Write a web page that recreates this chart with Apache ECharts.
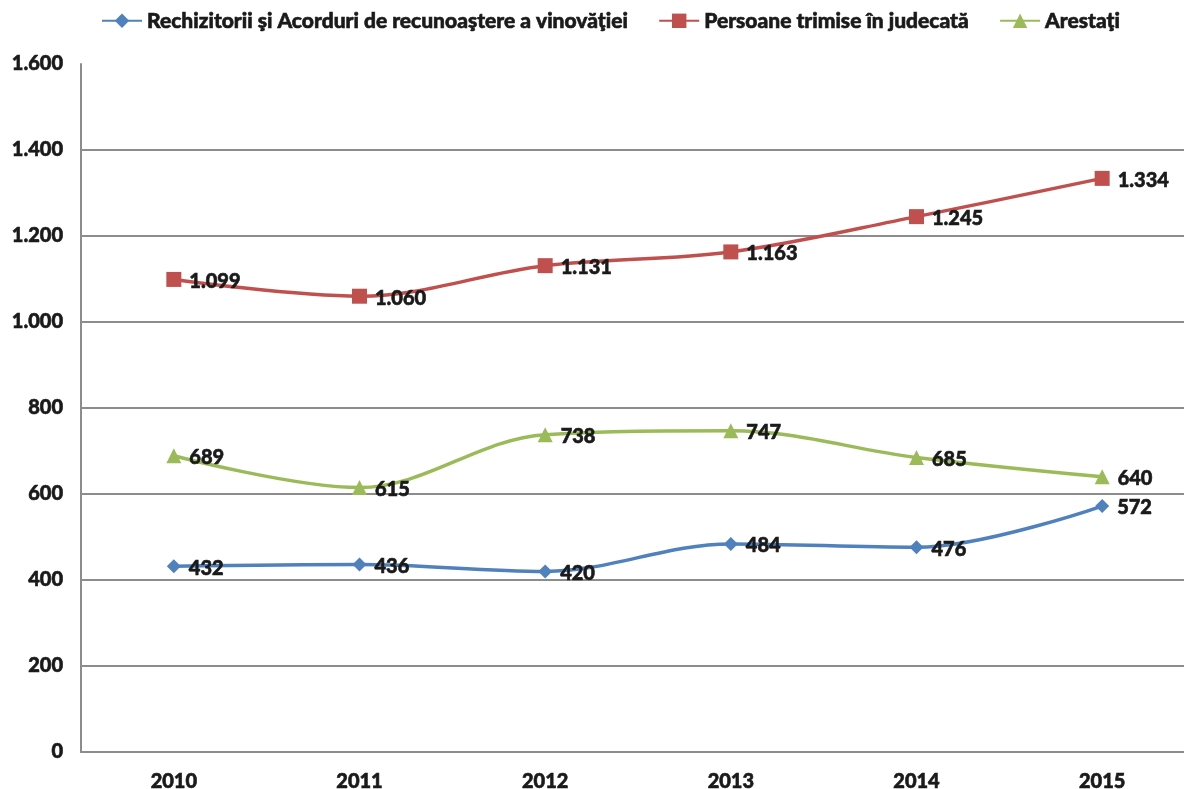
<!DOCTYPE html>
<html>
<head>
<meta charset="utf-8">
<script src="https://cdn.jsdelivr.net/npm/echarts@6/dist/echarts.min.js"></script>
<style>
  html, body { margin: 0; padding: 0; background: #fff; }
  #container { width: 1184px; height: 789px; }
</style>
</head>
<body>
<div id="container"></div>
<script>
const years = ["2010", "2011", "2012", "2013", "2014", "2015"];
const rechizitorii = [432, 436, 420, 484, 476, 572];
const trimise = [1099, 1060, 1131, 1163, 1245, 1334];
const arestati = [689, 615, 738, 747, 685, 640];
const seriesNames = [
  "Rechizitorii şi Acorduri de recunoaştere a vinovăţiei",
  "Persoane trimise în judecată",
  "Arestaţi",
];

const FONT = "Lato";
const TXT = "#1a1a1a";
const dom = document.getElementById("container");
const myChart = echarts.init(dom, null, { renderer: "canvas" });

function fmt(v) {
  return String(v).replace(/\B(?=(\d{3})+(?!\d))/g, ".");
}

// heavy bold text, close to the original's look
function heavy(size) {
  return {
    color: TXT,
    fontFamily: FONT,
    fontWeight: 900,
    fontSize: size,
    textBorderColor: TXT,
    textBorderWidth: 0.6,
  };
}

function makeSeries(name, data, color, symbol, size) {
  return {
    name: name,
    type: "line",
    data: data,
    smooth: 0.35,
    symbol: symbol,
    symbolSize: size,
    lineStyle: { color: color, width: 3.5 },
    itemStyle: { color: color },
    label: Object.assign(
      {
        show: true,
        position: "right",
        distance: 8,
        offset: [0, 2],
        formatter: (p) => fmt(p.value),
      },
      heavy(20)
    ),
  };
}

const gridColors = [];
for (let i = 0; i < 8; i++) gridColors.push("#8c8c8c");
gridColors.push("transparent");

const option = {
  animation: false,
  textStyle: { fontFamily: FONT },
  legend: {
    top: 5,
    left: 96,
    itemGap: 30,
    itemWidth: 40,
    itemHeight: 18,
    textStyle: heavy(21),
  },
  grid: {
    left: 81,
    top: 64,
    width: 1114,
    height: 688,
    outerBoundsMode: "none",
  },
  xAxis: {
    type: "category",
    data: years,
    boundaryGap: true,
    axisLine: { lineStyle: { color: "#8c8c8c", width: 2 } },
    axisTick: { show: false },
    axisLabel: Object.assign({ margin: 20 }, heavy(20)),
  },
  yAxis: {
    type: "value",
    min: 0,
    max: 1600,
    interval: 200,
    axisLine: { show: true, lineStyle: { color: "#8c8c8c", width: 2 } },
    axisTick: { show: false },
    splitLine: { lineStyle: { color: gridColors, width: 2 } },
    axisLabel: Object.assign({ margin: 18, formatter: (v) => fmt(v) }, heavy(20)),
  },
  series: [
    makeSeries(seriesNames[0], rechizitorii, "#4F81BD", "diamond", 14),
    makeSeries(seriesNames[1], trimise, "#C0504D", "rect", 15),
    makeSeries(seriesNames[2], arestati, "#9BBB59", "triangle", 15),
  ],
};

myChart.setOption(option);
window.addEventListener("resize", myChart.resize);
</script>
</body>
</html>
